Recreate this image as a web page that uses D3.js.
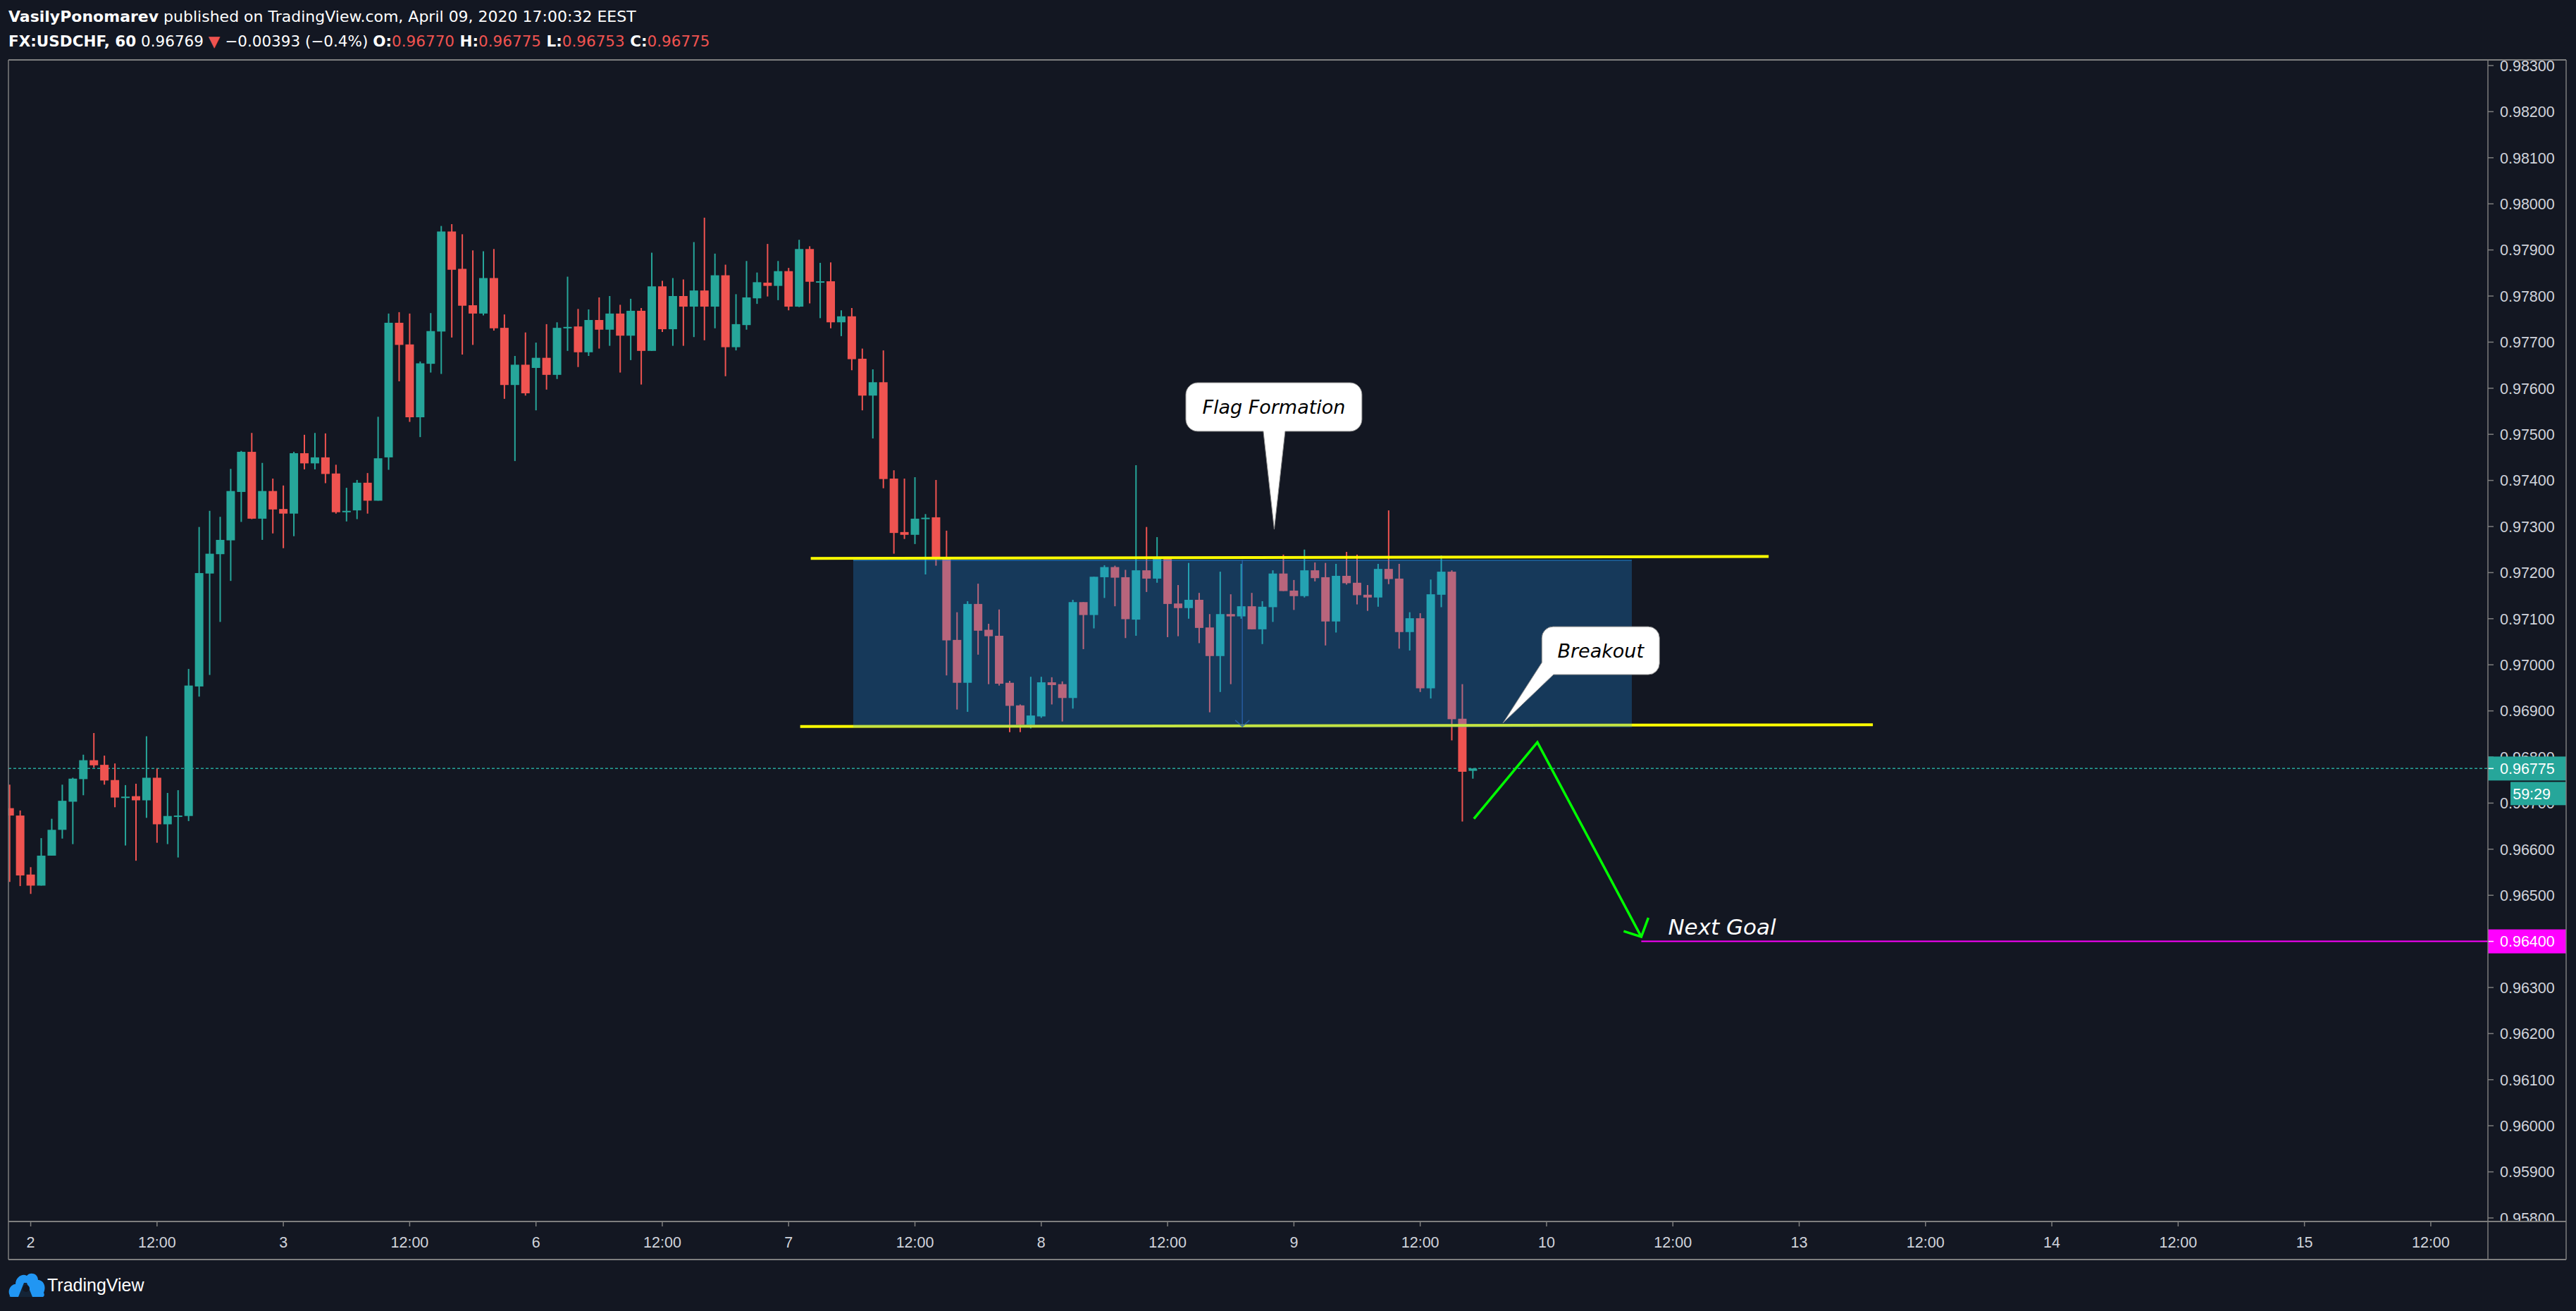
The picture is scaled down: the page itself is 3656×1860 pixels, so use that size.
<!DOCTYPE html>
<html><head><meta charset="utf-8">
<script src="https://cdn.jsdelivr.net/npm/d3@7"></script>
<style>html,body{margin:0;padding:0;background:#131722;overflow:hidden} svg{display:block}</style>
</head><body>
<script>
// ---------- DATA ----------
const openP=[0.96689,0.96673,0.96545,0.96521,0.96586,0.96642,0.96703,0.96752,0.96793,0.96783,
 0.96750,0.96712,0.96715,0.96706,0.96755,0.96654,0.96672,0.96672,0.96953,0.97198,
 0.97240,0.97270,0.97375,0.97462,0.97317,0.97377,0.97338,0.97328,0.97459,0.97437,
 0.97450,0.97415,0.97332,0.97335,0.97395,0.97356,0.97450,0.97742,0.97695,0.97537,
 0.97653,0.97723,0.97940,0.97859,0.97780,0.97762,0.97839,0.97731,0.97607,0.97651,
 0.97644,0.97666,0.97629,0.97733,0.97734,0.97678,0.97748,0.97727,0.97762,0.97714,
 0.97768,0.97681,0.97821,0.97728,0.97800,0.97777,0.97812,0.97777,0.97845,0.97689,
 0.97737,0.97795,0.97829,0.97822,0.97854,0.97777,0.97902,0.97831,0.97832,0.97743,
 0.97756,0.97664,0.97584,0.97613,0.97404,0.97288,0.97282,0.97318,0.97320,0.97231,
 0.97054,0.96961,0.97132,0.97076,0.97063,0.96961,0.96912,0.96870,0.96888,0.96962,
 0.96958,0.96928,0.97136,0.97108,0.97190,0.97212,0.97190,0.97098,0.97205,0.97187,
 0.97230,0.97133,0.97123,0.97141,0.97081,0.97019,0.97110,0.97105,0.97127,0.97077,
 0.97125,0.97198,0.97161,0.97149,0.97205,0.97190,0.97094,0.97193,0.97178,0.97152,
 0.97146,0.97208,0.97187,0.97071,0.97101,0.96949,0.97152,0.97202,0.96883,0.96770];
const highP=[0.96740,0.96684,0.96561,0.96624,0.96666,0.96740,0.96755,0.96805,0.96852,0.96803,
 0.96786,0.96739,0.96742,0.96845,0.96775,0.96722,0.96728,0.96991,0.97299,0.97334,
 0.97321,0.97425,0.97464,0.97503,0.97438,0.97404,0.97389,0.97462,0.97499,0.97503,
 0.97502,0.97434,0.97384,0.97401,0.97416,0.97538,0.97762,0.97765,0.97762,0.97658,
 0.97763,0.97952,0.97956,0.97934,0.97899,0.97897,0.97902,0.97760,0.97670,0.97721,
 0.97699,0.97739,0.97743,0.97842,0.97772,0.97771,0.97797,0.97800,0.97781,0.97794,
 0.97774,0.97894,0.97833,0.97839,0.97836,0.97917,0.97970,0.97892,0.97868,0.97804,
 0.97876,0.97851,0.97913,0.97876,0.97861,0.97922,0.97908,0.97872,0.97873,0.97769,
 0.97774,0.97686,0.97641,0.97682,0.97422,0.97404,0.97407,0.97327,0.97401,0.97291,
 0.97114,0.97138,0.97176,0.97089,0.97120,0.96965,0.96914,0.96974,0.96974,0.96973,
 0.96964,0.97141,0.97136,0.97191,0.97216,0.97215,0.97206,0.97433,0.97299,0.97277,
 0.97233,0.97173,0.97221,0.97156,0.97110,0.97202,0.97153,0.97219,0.97156,0.97138,
 0.97205,0.97239,0.97184,0.97250,0.97222,0.97221,0.97219,0.97245,0.97239,0.97173,
 0.97219,0.97335,0.97219,0.97114,0.97112,0.97185,0.97237,0.97205,0.96958,0.96775];
const lowP=[0.96529,0.96520,0.96503,0.96521,0.96586,0.96623,0.96611,0.96717,0.96777,0.96740,
 0.96691,0.96608,0.96575,0.96668,0.96614,0.96611,0.96582,0.96661,0.96931,0.96978,
 0.97093,0.97182,0.97310,0.97316,0.97271,0.97285,0.97253,0.97279,0.97424,0.97424,
 0.97394,0.97328,0.97311,0.97316,0.97328,0.97356,0.97423,0.97615,0.97527,0.97494,
 0.97634,0.97631,0.97710,0.97673,0.97694,0.97758,0.97725,0.97577,0.97442,0.97584,
 0.97552,0.97597,0.97620,0.97681,0.97646,0.97670,0.97686,0.97692,0.97634,0.97661,
 0.97608,0.97681,0.97722,0.97692,0.97692,0.97711,0.97704,0.97730,0.97626,0.97682,
 0.97727,0.97783,0.97799,0.97791,0.97769,0.97776,0.97784,0.97752,0.97730,0.97713,
 0.97639,0.97552,0.97491,0.97383,0.97241,0.97273,0.97262,0.97196,0.97215,0.96977,
 0.96903,0.96898,0.97022,0.96958,0.96955,0.96854,0.96854,0.96862,0.96885,0.96914,
 0.96877,0.96905,0.97034,0.97079,0.97145,0.97127,0.97058,0.97063,0.97158,0.97178,
 0.97060,0.97062,0.97100,0.97047,0.96897,0.96941,0.96958,0.97100,0.97077,0.97045,
 0.97093,0.97160,0.97119,0.97146,0.97181,0.97042,0.97070,0.97174,0.97131,0.97117,
 0.97126,0.97175,0.97035,0.97031,0.96941,0.96927,0.97125,0.96836,0.96660,0.96753];
const closeP=[0.96673,0.96543,0.96521,0.96586,0.96642,0.96705,0.96753,0.96793,0.96782,0.96749,
 0.96712,0.96714,0.96706,0.96755,0.96654,0.96672,0.96673,0.96955,0.97199,0.97241,
 0.97271,0.97377,0.97462,0.97317,0.97377,0.97337,0.97328,0.97459,0.97437,0.97450,
 0.97414,0.97331,0.97334,0.97395,0.97356,0.97448,0.97742,0.97694,0.97537,0.97654,
 0.97724,0.97940,0.97857,0.97779,0.97762,0.97839,0.97730,0.97607,0.97651,0.97589,
 0.97666,0.97629,0.97731,0.97733,0.97678,0.97748,0.97727,0.97762,0.97714,0.97768,
 0.97681,0.97821,0.97728,0.97800,0.97777,0.97812,0.97777,0.97845,0.97689,0.97739,
 0.97797,0.97830,0.97822,0.97854,0.97777,0.97902,0.97831,0.97832,0.97743,0.97756,
 0.97663,0.97584,0.97613,0.97403,0.97286,0.97282,0.97317,0.97319,0.97232,0.97053,
 0.96961,0.97132,0.97074,0.97062,0.96959,0.96911,0.96870,0.96890,0.96962,0.96956,
 0.96928,0.97136,0.97108,0.97191,0.97212,0.97189,0.97099,0.97205,0.97187,0.97230,
 0.97132,0.97123,0.97141,0.97080,0.97019,0.97110,0.97105,0.97127,0.97077,0.97126,
 0.97198,0.97160,0.97149,0.97205,0.97188,0.97094,0.97193,0.97177,0.97151,0.97146,
 0.97208,0.97186,0.97071,0.97101,0.96949,0.97153,0.97202,0.96882,0.96768,0.96775];

const xTickLabels=["2","12:00","3","12:00","6","12:00","7","12:00","8","12:00","9","12:00","10","12:00","13","12:00","14","12:00","15","12:00"];
const firstTickBar=2, barsPerTick=12;
const yTickValues=[0.958,0.959,0.960,0.961,0.962,0.963,0.964,0.965,0.966,0.967,0.968,0.969,0.970,0.971,0.972,0.973,0.974,0.975,0.976,0.977,0.978,0.979,0.980,0.981,0.982,0.983];

const lastPrice=0.96775, countdown="59:29", goalPrice=0.964;
const flagBox={left:80.14,right:154.1,top:0.97228,bottom:0.96864};
const upperLine=[[76.1,0.97231],[167.1,0.97235]];
const lowerLine=[[75.1,0.96866],[177.0,0.96870]];
const boxArrowBar=117.1;
const pathArrow=[[139.1,0.96666],[145.13,0.96832],[155.0,0.96410]];
const goalStartBar=155.0;
const callouts=[{text:"Flag Formation",tip:[120.13,0.97294]},{text:"Breakout",tip:[141.87,0.96874]}];
const headerLine1=[{t:"VasilyPonomarev",b:true},{t:" published on TradingView.com, April 09, 2020 17:00:32 EEST"}];
const headerLine2=[{t:"FX:USDCHF, 60",b:true},{t:"\u00A00.96769\u00A0"},{t:"\u25BC",c:"#ef5350"},{t:"\u00A0\u22120.00393 (\u22120.4%)\u00A0"},{t:"O:",b:true},{t:"0.96770",c:"#ef5350"},{t:"\u00A0H:",b:true},{t:"0.96775",c:"#ef5350"},{t:"\u00A0L:",b:true},{t:"0.96753",c:"#ef5350"},{t:"\u00A0C:",b:true},{t:"0.96775",c:"#ef5350"}];

// ---------- LAYOUT ----------
const W=3656,H=1860;
const plotL=12, plotR=3531, plotT=85, plotB=1733, axisR=3642, axisB=1787;
const UP="#26a69a", DOWN="#ef5350", BG="#131722", FRAME="#7e7e7e";

const svg=d3.select("body").append("svg").attr("width",W).attr("height",H);
svg.append("rect").attr("width",W).attr("height",H).attr("fill",BG);

const x=d3.scaleLinear().domain([0,235]).range([13.7,13.7+235*14.94]);
const y=d3.scaleLinear().domain([0.958,0.983]).range([1728,93]);

const defs=svg.append("defs");
defs.append("clipPath").attr("id","plotClip").append("rect").attr("x",plotL).attr("y",plotT).attr("width",plotR-plotL).attr("height",plotB-plotT);
defs.append("clipPath").attr("id","axisClip").append("rect").attr("x",plotR).attr("y",plotT).attr("width",axisR-plotR).attr("height",plotB-plotT);

// header
function header(parts,yy,fs){
  const t=svg.append("text").attr("x",12).attr("y",yy).attr("font-family","DejaVu Sans, Verdana, sans-serif").attr("font-size",fs).attr("fill","#ffffff");
  parts.forEach(p=>t.append("tspan").text(p.t).attr("font-weight",p.b?"bold":"normal").attr("fill",p.c||"#ffffff"));
}
header(headerLine1,31,22);
header(headerLine2,66,21.5);

const plot=svg.append("g").attr("clip-path","url(#plotClip)");

// current price dashed line
plot.append("line").attr("x1",plotL).attr("x2",plotR).attr("y1",y(lastPrice)).attr("y2",y(lastPrice))
  .attr("stroke",UP).attr("stroke-width",1.5).attr("stroke-dasharray","4,3");

// candles
const bars=d3.range(openP.length).map(i=>({i,o:openP[i],h:highP[i],l:lowP[i],c:closeP[i]}));
const bw=12;
const cg=plot.append("g");
cg.selectAll("line.wick").data(bars).join("line").attr("class","wick")
  .attr("x1",d=>x(d.i)).attr("x2",d=>x(d.i)).attr("y1",d=>y(d.h)).attr("y2",d=>y(d.l))
  .attr("stroke",d=>d.c>=d.o?UP:DOWN).attr("stroke-width",2);
cg.selectAll("rect.body").data(bars).join("rect").attr("class","body")
  .attr("x",d=>x(d.i)-bw/2).attr("width",bw)
  .attr("y",d=>y(Math.max(d.o,d.c))).attr("height",d=>Math.max(2,Math.abs(y(d.o)-y(d.c))))
  .attr("fill",d=>d.c>=d.o?UP:DOWN);

// lower yellow line (under box)
plot.append("line").attr("x1",x(lowerLine[0][0])).attr("y1",y(lowerLine[0][1])).attr("x2",x(lowerLine[1][0])).attr("y2",y(lowerLine[1][1]))
  .attr("stroke","#ffff00").attr("stroke-width",4);
// box
plot.append("rect").attr("x",x(flagBox.left)).attr("y",y(flagBox.top)).attr("width",x(flagBox.right)-x(flagBox.left)).attr("height",y(flagBox.bottom)-y(flagBox.top))
  .attr("fill","rgba(33,150,243,0.27)");
plot.append("line").attr("x1",x(flagBox.left)).attr("x2",x(flagBox.right)).attr("y1",y(flagBox.top)+1).attr("y2",y(flagBox.top)+1)
  .attr("stroke","rgba(33,150,243,0.35)").attr("stroke-width",2);
// arrow inside box
const ax=x(boxArrowBar), ay1=y(flagBox.top), ay2=y(lowerLine[0][1]);
plot.append("path").attr("d",`M${ax},${ay1}V${ay2}M${ax-10},${ay2-9}L${ax},${ay2}L${ax+10},${ay2-9}`)
  .attr("fill","none").attr("stroke","rgba(41,98,170,0.85)").attr("stroke-width",1.5);
// upper yellow line
plot.append("line").attr("x1",x(upperLine[0][0])).attr("y1",y(upperLine[0][1])).attr("x2",x(upperLine[1][0])).attr("y2",y(upperLine[1][1]))
  .attr("stroke","#ffff00").attr("stroke-width",4);

// magenta goal line
plot.append("line").attr("x1",x(goalStartBar)).attr("x2",plotR).attr("y1",y(goalPrice)).attr("y2",y(goalPrice))
  .attr("stroke","#ff00ff").attr("stroke-width",2);
// green path arrow
const line=d3.line().x(d=>x(d[0])).y(d=>y(d[1]));
plot.append("path").attr("d",line(pathArrow)).attr("fill","none").attr("stroke","#00ff00").attr("stroke-width",3.5).attr("stroke-linejoin","miter");
const ex=x(pathArrow[2][0]), ey=y(pathArrow[2][1]);
plot.append("path").attr("d",`M${ex-25},${ey-8}L${ex},${ey}L${ex+10},${ey-27}`).attr("fill","none").attr("stroke","#00ff00").attr("stroke-width",3.5);
// Next Goal text
plot.append("text").attr("x",x(goalStartBar)+38).attr("y",y(goalPrice)-10).text("Next Goal")
  .attr("font-family","DejaVu Sans, sans-serif").attr("font-style","italic").attr("font-size",31).attr("fill","#ffffff");

// callouts
function roundRectTail(bx,by,w,h,r,tailPts,kind){
  if(kind==="bottom"){
    const [l,tip,rr]=tailPts;
    return `M${bx+r},${by}H${bx+w-r}A${r},${r} 0 0 1 ${bx+w},${by+r}V${by+h-r}A${r},${r} 0 0 1 ${bx+w-r},${by+h}H${rr[0]}L${tip[0]},${tip[1]}L${l[0]},${by+h}H${bx+r}A${r},${r} 0 0 1 ${bx},${by+h-r}V${by+r}A${r},${r} 0 0 1 ${bx+r},${by}Z`;
  } else {
    const [b,tip,lft]=tailPts;
    return `M${bx+r},${by}H${bx+w-r}A${r},${r} 0 0 1 ${bx+w},${by+r}V${by+h-r}A${r},${r} 0 0 1 ${bx+w-r},${by+h}H${b}L${tip[0]},${tip[1]}L${bx},${lft}V${by+r}A${r},${r} 0 0 1 ${bx+r},${by}Z`;
  }
}
{ // Flag Formation
  const c=callouts[0]; const tx=x(c.tip[0]), ty=y(c.tip[1]);
  const bx=tx-125.5, by=ty-208, w=250, h=69;
  plot.append("path").attr("d",roundRectTail(bx,by,w,h,17,[[tx-15.5,0],[tx,ty],[tx+15.5,0]],"bottom"))
    .attr("fill","#ffffff").attr("stroke","#8a8a8a").attr("stroke-width",1);
  plot.append("text").attr("x",bx+w/2).attr("y",by+h/2).attr("dy","0.36em").attr("text-anchor","middle").text(c.text)
    .attr("font-family","DejaVu Sans, sans-serif").attr("font-style","italic").attr("font-size",27).attr("fill","#000");
}
{ // Breakout
  const c=callouts[1]; const tx=x(c.tip[0]), ty=y(c.tip[1]);
  const bx=tx+55, by=ty-136.5, w=167, h=68;
  plot.append("path").attr("d",roundRectTail(bx,by,w,h,16,[bx+16.6,[tx,ty],by+h-17],"left"))
    .attr("fill","#ffffff").attr("stroke","#8a8a8a").attr("stroke-width",1);
  plot.append("text").attr("x",bx+w/2).attr("y",by+h/2).attr("dy","0.36em").attr("text-anchor","middle").text(c.text)
    .attr("font-family","DejaVu Sans, sans-serif").attr("font-style","italic").attr("font-size",27).attr("fill","#000");
}

// ---------- AXES ----------
const AXFONT="Liberation Sans, Arial, sans-serif";
const yAx=svg.append("g").attr("clip-path","url(#axisClip)");
yTickValues.forEach(v=>{
  yAx.append("line").attr("x1",plotR).attr("x2",plotR+8).attr("y1",y(v)).attr("y2",y(v)).attr("stroke",FRAME).attr("stroke-width",1.5);
  yAx.append("text").attr("x",3548).attr("y",y(v)).attr("dy","0.36em").text(v.toFixed(5))
    .attr("font-family",AXFONT).attr("font-size",21.5).attr("fill","#d1d4dc");
});
// last price label
function priceTag(v,color){
  const yy=y(v);
  svg.append("rect").attr("x",plotR).attr("y",yy-17).attr("width",axisR-plotR).attr("height",34).attr("fill",color);
  svg.append("line").attr("x1",plotR).attr("x2",plotR+8).attr("y1",yy).attr("y2",yy).attr("stroke","#fff").attr("stroke-width",1.5);
  svg.append("text").attr("x",3548).attr("y",yy).attr("dy","0.36em").text(v.toFixed(5))
    .attr("font-family",AXFONT).attr("font-size",21.5).attr("fill","#ffffff");
}
priceTag(lastPrice,UP);
svg.append("rect").attr("x",3563).attr("y",y(lastPrice)+19).attr("width",axisR-3563).attr("height",33).attr("fill",UP);
svg.append("text").attr("x",3620).attr("y",y(lastPrice)+35.5).attr("dy","0.36em").attr("text-anchor","end").text(countdown)
  .attr("font-family",AXFONT).attr("font-size",21.5).attr("fill","#ffffff");
priceTag(goalPrice,"#ff00ff");

// x axis
xTickLabels.forEach((lab,k)=>{
  const xx=x(firstTickBar+k*barsPerTick);
  svg.append("line").attr("x1",xx).attr("x2",xx).attr("y1",plotB).attr("y2",plotB+7).attr("stroke",FRAME).attr("stroke-width",1.5);
  svg.append("text").attr("x",xx).attr("y",1762).attr("dy","0.36em").attr("text-anchor","middle").text(lab)
    .attr("font-family",AXFONT).attr("font-size",21.5).attr("fill","#d1d4dc");
});

// frame
const fr=svg.append("g").attr("stroke",FRAME).attr("fill","none");
fr.append("line").attr("x1",plotL).attr("x2",axisR).attr("y1",plotT).attr("y2",plotT).attr("stroke-width",2);
fr.append("line").attr("x1",plotL).attr("x2",axisR).attr("y1",plotB).attr("y2",plotB).attr("stroke-width",2);
fr.append("line").attr("x1",plotL).attr("x2",axisR).attr("y1",axisB).attr("y2",axisB).attr("stroke-width",2);
fr.append("line").attr("x1",plotL).attr("x2",plotL).attr("y1",plotT).attr("y2",axisB).attr("stroke-width",1.5);
fr.append("line").attr("x1",axisR).attr("x2",axisR).attr("y1",plotT).attr("y2",axisB).attr("stroke-width",1.5);
fr.append("line").attr("x1",plotR).attr("x2",plotR).attr("y1",plotT).attr("y2",axisB).attr("stroke-width",1.5);

// TradingView logo
const lg=svg.append("g").attr("transform","translate(12,1806)");
lg.append("path").attr("d","M2,32 C-2,24 4,16 10,16 C10,6 20,0 26,4 C30,-2 42,0 42,10 C50,10 54,20 50,28 C52,32 50,34 48,34 L4,34 C2,34 1,33 2,32Z").attr("fill","#2196f3");
lg.append("circle").attr("cx",25).attr("cy",22).attr("r",5).attr("fill",BG);
lg.append("path").attr("d","M14,34 L22,14 L26,14 L34,34Z").attr("fill",BG).attr("opacity",0.9);
svg.append("text").attr("x",67).attr("y",1832).text("TradingView").attr("font-family",AXFONT).attr("font-size",25).attr("fill","#ffffff");
</script>
</body></html>
